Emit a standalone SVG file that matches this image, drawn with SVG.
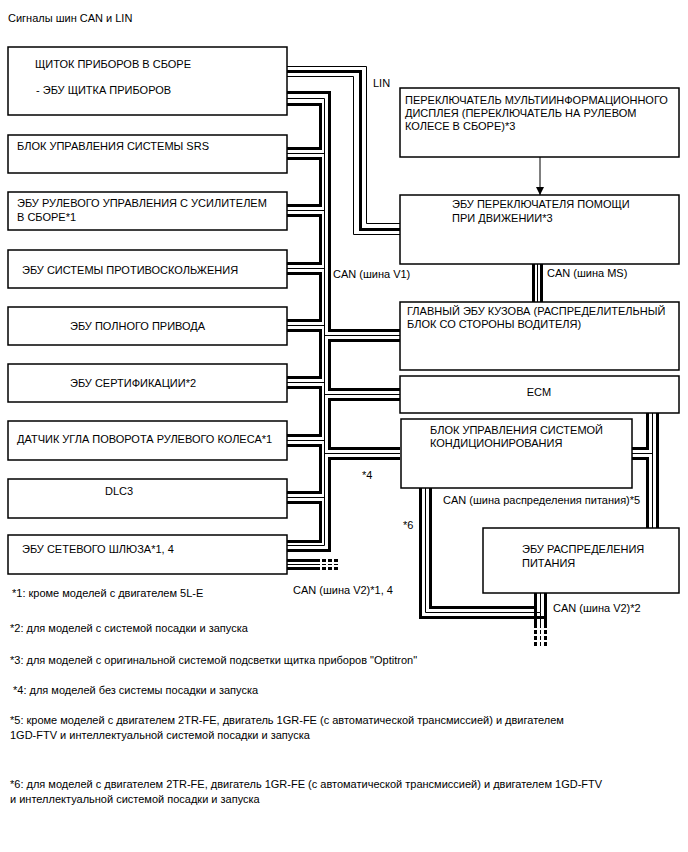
<svg xmlns="http://www.w3.org/2000/svg" width="688" height="852" viewBox="0 0 688 852">
<style>
text{font-family:"Liberation Sans",Arial,sans-serif;font-size:11px;fill:#000}
.box{fill:#fff;stroke:#000;stroke-width:1.5}
.tk{fill:none;stroke:#000;stroke-width:3}
.tn{fill:none;stroke:#000;stroke-width:1}
.dk{fill:none;stroke:#000;stroke-width:3;stroke-dasharray:4 2}
.dn{fill:none;stroke:#000;stroke-width:1;stroke-dasharray:4 2}
</style>
<defs>
<marker id="arr" viewBox="0 0 10 10" refX="10" refY="5" markerWidth="8" markerHeight="9" markerUnits="userSpaceOnUse" orient="auto"><path d="M0,0 L10,5 L0,10 z" fill="#000"/></marker>
</defs>
<rect width="688" height="852" fill="#fff"/>
<text x="8" y="22">Сигналы шин CAN и LIN</text>

<g id="connectors">
<!-- LIN -->
<path class="tn" d="M287,66.5 H366.5 V223.5 H400"/>
<path class="tk" d="M287,71.5 H360.5 V229.5 H400"/>
<path class="tn" d="M287,76.5 H353.5 V234.5 H400"/>
<!-- left chain -->
<path class="tk" d="M287,104.5 H320.5 V148.5 H287"/>
<path class="tk" d="M287,158.5 H320.5 V205.5 H287"/>
<path class="tk" d="M287,215.5 H320.5 V263.5 H287"/>
<path class="tk" d="M287,273.5 H320.5 V320.5 H287"/>
<path class="tk" d="M287,330.5 H320.5 V377.5 H287"/>
<path class="tk" d="M287,387.5 H320.5 V435.5 H287"/>
<path class="tk" d="M287,445.5 H320.5 V492.5 H287"/>
<path class="tk" d="M287,502.5 H320.5 V541.5 H287"/>
<!-- thin common -->
<path class="tn" d="M287,98.5 H324.5 V545.5 H287"/>
<path class="tn" d="M287,153.5 H324.5 M287,210.5 H324.5 M287,268.5 H324.5 M287,325.5 H324.5 M287,382.5 H324.5 M287,440.5 H324.5 M287,497.5 H324.5"/>
<path class="tn" d="M400,335.5 H324.5 M400,394.5 H324.5 M400,453.5 H324.5"/>
<!-- right chain -->
<path class="tk" d="M287,92.5 H329.5 V330.5 H400"/>
<path class="tk" d="M400,340.5 H329.5 V389.5 H400"/>
<path class="tk" d="M400,399.5 H329.5 V448.5 H400"/>
<path class="tk" d="M400,458.5 H329.5 V550.5 H287"/>
<!-- V2 from gateway -->
<path class="tk" d="M287,560.5 H320"/>
<path class="tn" d="M287,564.5 H320"/>
<path class="tk" d="M287,568.5 H320"/>
<path class="dk" d="M322,560.5 H340 M322,568.5 H340"/>
<path class="dn" d="M322,564.5 H340"/>
<!-- MS -->
<path class="tk" d="M533.5,264 V302 M541.5,264 V302"/>
<path class="tn" d="M537.5,264 V302"/>
<!-- power distribution bus -->
<path class="tk" d="M657.5,413 V528"/>
<path class="tn" d="M652.5,413 V528 M632,453.5 H652.5"/>
<path class="tk" d="M647.5,413 V448.5 H632 M632,458.5 H647.5 V528"/>
<!-- *6 bus and V2 from power distribution -->
<path class="tk" d="M430.5,488 V607.5 H535.5 V593"/>
<path class="tn" d="M425.5,488 V612.5 H540.5 V593"/>
<path class="tk" d="M420.5,488 V617.5 H545.5 V628"/>
<path class="tk" d="M535.5,607.5 V628 M545.5,593 V628"/>
<path class="tn" d="M540.5,612.5 V628"/>
<path class="dk" d="M535.5,630 V648 M545.5,630 V648"/>
<path class="dn" d="M540.5,630 V648"/>
<!-- arrow -->
<path class="tn" d="M540,157 V195" marker-end="url(#arr)"/>
</g>

<g id="n1"><rect class="box" x="8" y="47" width="279" height="68"/><text x="35" y="68">ЩИТОК ПРИБОРОВ В СБОРЕ</text><text x="36" y="94">- ЭБУ ЩИТКА ПРИБОРОВ</text></g>
<g id="n2"><rect class="box" x="8" y="135" width="279" height="38"/><text x="17" y="150">БЛОК УПРАВЛЕНИЯ СИСТЕМЫ SRS</text></g>
<g id="n3"><rect class="box" x="8" y="192" width="279" height="38"/><text x="17" y="207">ЭБУ РУЛЕВОГО УПРАВЛЕНИЯ С УСИЛИТЕЛЕМ</text><text x="17" y="221">В СБОРЕ*1</text></g>
<g id="n4"><rect class="box" x="8" y="250" width="279" height="38"/><text x="22" y="274">ЭБУ СИСТЕМЫ ПРОТИВОСКОЛЬЖЕНИЯ</text></g>
<g id="n5"><rect class="box" x="8" y="307" width="279" height="38"/><text x="70" y="330">ЭБУ ПОЛНОГО ПРИВОДА</text></g>
<g id="n6"><rect class="box" x="8" y="364" width="279" height="38"/><text x="70" y="387">ЭБУ СЕРТИФИКАЦИИ*2</text></g>
<g id="n7"><rect class="box" x="8" y="421" width="279" height="39"/><text x="17" y="443">ДАТЧИК УГЛА ПОВОРОТА РУЛЕВОГО КОЛЕСА*1</text></g>
<g id="n8"><rect class="box" x="8" y="479" width="279" height="39"/><text x="105" y="495">DLC3</text></g>
<g id="n9"><rect class="box" x="8" y="535" width="279" height="39"/><text x="22" y="553">ЭБУ СЕТЕВОГО ШЛЮЗА*1, 4</text></g>

<g id="n10"><rect class="box" x="400" y="88" width="279" height="69"/><text x="405" y="104">ПЕРЕКЛЮЧАТЕЛЬ МУЛЬТИИНФОРМАЦИОННОГО</text><text x="405" y="117">ДИСПЛЕЯ (ПЕРЕКЛЮЧАТЕЛЬ НА РУЛЕВОМ</text><text x="405" y="130">КОЛЕСЕ В СБОРЕ)*3</text></g>
<g id="n11"><rect class="box" x="400" y="195" width="279" height="69"/><text x="452" y="208">ЭБУ ПЕРЕКЛЮЧАТЕЛЯ ПОМОЩИ</text><text x="452" y="222">ПРИ ДВИЖЕНИИ*3</text></g>
<g id="n12"><rect class="box" x="400" y="302" width="279" height="68"/><text x="407" y="315">ГЛАВНЫЙ ЭБУ КУЗОВА (РАСПРЕДЕЛИТЕЛЬНЫЙ</text><text x="407" y="328">БЛОК СО СТОРОНЫ ВОДИТЕЛЯ)</text></g>
<g id="n13"><rect class="box" x="400" y="376" width="279" height="37"/><text x="539" y="396" text-anchor="middle">ECM</text></g>
<g id="n14"><rect class="box" x="401" y="419" width="231" height="69"/><text x="430" y="434">БЛОК УПРАВЛЕНИЯ СИСТЕМОЙ</text><text x="430" y="447">КОНДИЦИОНИРОВАНИЯ</text></g>
<g id="n15"><rect class="box" x="483" y="528" width="196" height="65"/><text x="522" y="553">ЭБУ РАСПРЕДЕЛЕНИЯ</text><text x="522" y="567">ПИТАНИЯ</text></g>

<g id="labels">
<text x="373" y="87">LIN</text>
<text x="333" y="278">CAN (шина V1)</text>
<text x="547" y="277">CAN (шина MS)</text>
<text x="362" y="479">*4</text>
<text x="403" y="529">*6</text>
<text x="443" y="504">CAN (шина распределения питания)*5</text>
<text x="293" y="594">CAN (шина V2)*1, 4</text>
<text x="553" y="612">CAN (шина V2)*2</text>
</g>

<g id="notes">
<text x="12" y="597">*1: кроме моделей с двигателем 5L-E</text>
<text x="10" y="632">*2: для моделей с системой посадки и запуска</text>
<text x="10" y="664">*3: для моделей с оригинальной системой подсветки щитка приборов "Optitron"</text>
<text x="13" y="694">*4: для моделей без системы посадки и запуска</text>
<text x="10" y="724">*5: кроме моделей с двигателем 2TR-FE, двигатель 1GR-FE (с автоматической трансмиссией) и двигателем</text>
<text x="10" y="739">1GD-FTV и интеллектуальной системой посадки и запуска</text>
<text x="10" y="788">*6: для моделей с двигателем 2TR-FE, двигатель 1GR-FE (с автоматической трансмиссией) и двигателем 1GD-FTV</text>
<text x="10" y="803">и интеллектуальной системой посадки и запуска</text>
</g>
</svg>
